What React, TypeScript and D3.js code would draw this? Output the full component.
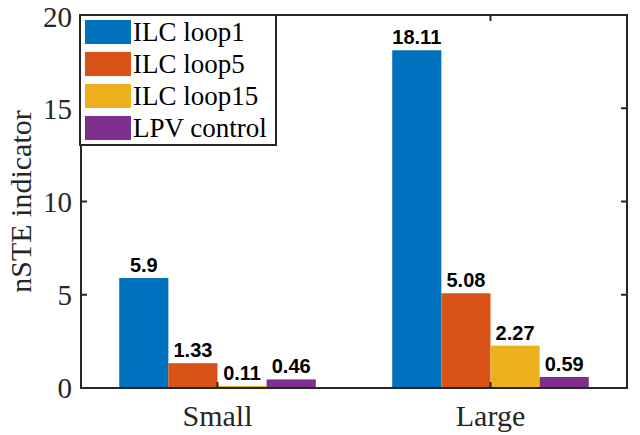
import React, { useEffect, useRef } from 'react';
import * as d3 from 'd3';

const categories = ['Small', 'Large'];
const seriesNames = ['ILC loop1', 'ILC loop5', 'ILC loop15', 'LPV control'];
const seriesColors = ['#0072BD', '#D95319', '#EDB120', '#7E2F8E'];
const smallValues = [5.9, 1.33, 0.11, 0.46];
const largeValues = [18.11, 5.08, 2.27, 0.59];
const yTicks = [0, 5, 10, 15, 20];

const App: React.FC = () => {
    const ref = useRef<SVGSVGElement>(null);

    useEffect(() => {
        if (!ref.current) return;
        const svg = d3.select(ref.current);
        svg.selectAll('*').remove();

        const left = 81, right = 627, top = 15, bottom = 388;
        const axisColor = '#262626';
        const serif = '"Liberation Serif", "Times New Roman", serif';

        const values = [smallValues, largeValues];

        // categorical positions 1..2 like matlab, xlim [0.5, 2.5]
        const x = d3.scaleLinear().domain([0.5, 2.5]).range([left, right]);
        const y = d3.scaleLinear().domain([0, 20]).range([bottom, top]);
        const inner = d3.scaleBand<string>()
            .domain(seriesNames)
            .range([-0.36, 0.36])
            .padding(0);

        // bars
        categories.forEach((cat, ci) => {
            const g = svg.append('g');
            g.selectAll('rect')
                .data(values[ci])
                .enter().append('rect')
                .attr('x', (d, i) => x(ci + 1 + inner(seriesNames[i])!))
                .attr('width', x(inner.bandwidth()) - x(0))
                .attr('y', d => y(d))
                .attr('height', d => bottom - y(d))
                .attr('fill', (d, i) => seriesColors[i]);

            g.selectAll('text')
                .data(values[ci])
                .enter().append('text')
                .attr('x', (d, i) => x(ci + 1 + inner(seriesNames[i])! + inner.bandwidth() / 2))
                .attr('y', d => y(d) - 6)
                .attr('text-anchor', 'middle')
                .attr('font-family', '"Liberation Sans", Arial, sans-serif')
                .attr('font-weight', 'bold')
                .attr('font-size', 20)
                .attr('fill', '#000')
                .text(d => String(d));
        });

        // box
        svg.append('rect')
            .attr('x', left).attr('y', top)
            .attr('width', right - left).attr('height', bottom - top)
            .attr('fill', 'none')
            .attr('stroke', axisColor)
            .attr('stroke-width', 2);

        // y ticks (inside, both sides)
        yTicks.forEach(t => {
            svg.append('line')
                .attr('x1', left).attr('x2', left + 6)
                .attr('y1', y(t)).attr('y2', y(t))
                .attr('stroke', axisColor).attr('stroke-width', 2);
            svg.append('line')
                .attr('x1', right).attr('x2', right - 6)
                .attr('y1', y(t)).attr('y2', y(t))
                .attr('stroke', axisColor).attr('stroke-width', 2);
            svg.append('text')
                .attr('x', left - 9)
                .attr('y', t === 20 ? y(t) + 1.5 : y(t))
                .attr('dy', '0.36em')
                .attr('text-anchor', 'end')
                .attr('font-family', serif)
                .attr('font-size', 29)
                .attr('fill', axisColor)
                .text(t);
        });

        // x ticks
        categories.forEach((cat, ci) => {
            const px = x(ci + 1);
            svg.append('line')
                .attr('x1', px).attr('x2', px)
                .attr('y1', bottom).attr('y2', bottom - 6)
                .attr('stroke', axisColor).attr('stroke-width', 2);
            svg.append('line')
                .attr('x1', px).attr('x2', px)
                .attr('y1', top).attr('y2', top + 6)
                .attr('stroke', axisColor).attr('stroke-width', 2);
            svg.append('text')
                .attr('x', px)
                .attr('y', 426)
                .attr('text-anchor', 'middle')
                .attr('font-family', serif)
                .attr('font-size', 30)
                .attr('fill', axisColor)
                .text(cat);
        });

        // y label
        svg.append('text')
            .attr('transform', `translate(31,${(top + bottom) / 2}) rotate(-90)`)
            .attr('text-anchor', 'middle')
            .attr('font-family', serif)
            .attr('font-size', 30)
            .attr('fill', axisColor)
            .text('nSTE indicator');

        // legend
        const lg = svg.append('g');
        lg.append('rect')
            .attr('x', 80).attr('y', 15)
            .attr('width', 196).attr('height', 130)
            .attr('fill', '#fff')
            .attr('stroke', axisColor)
            .attr('stroke-width', 2);
        seriesNames.forEach((name, i) => {
            const cy = 32 + i * 32;
            lg.append('rect')
                .attr('x', 85).attr('y', cy - 12)
                .attr('width', 46).attr('height', 24)
                .attr('fill', seriesColors[i]);
            lg.append('text')
                .attr('x', 133).attr('y', cy + 9)
                .attr('font-family', serif)
                .attr('font-size', 27)
                .attr('fill', '#000')
                .text(name);
        });
    }, []);

    return (
        <svg ref={ref} width={640} height={435} style={{ position: 'absolute', left: 0, top: 0 }}></svg>
    );
};

export default App;
